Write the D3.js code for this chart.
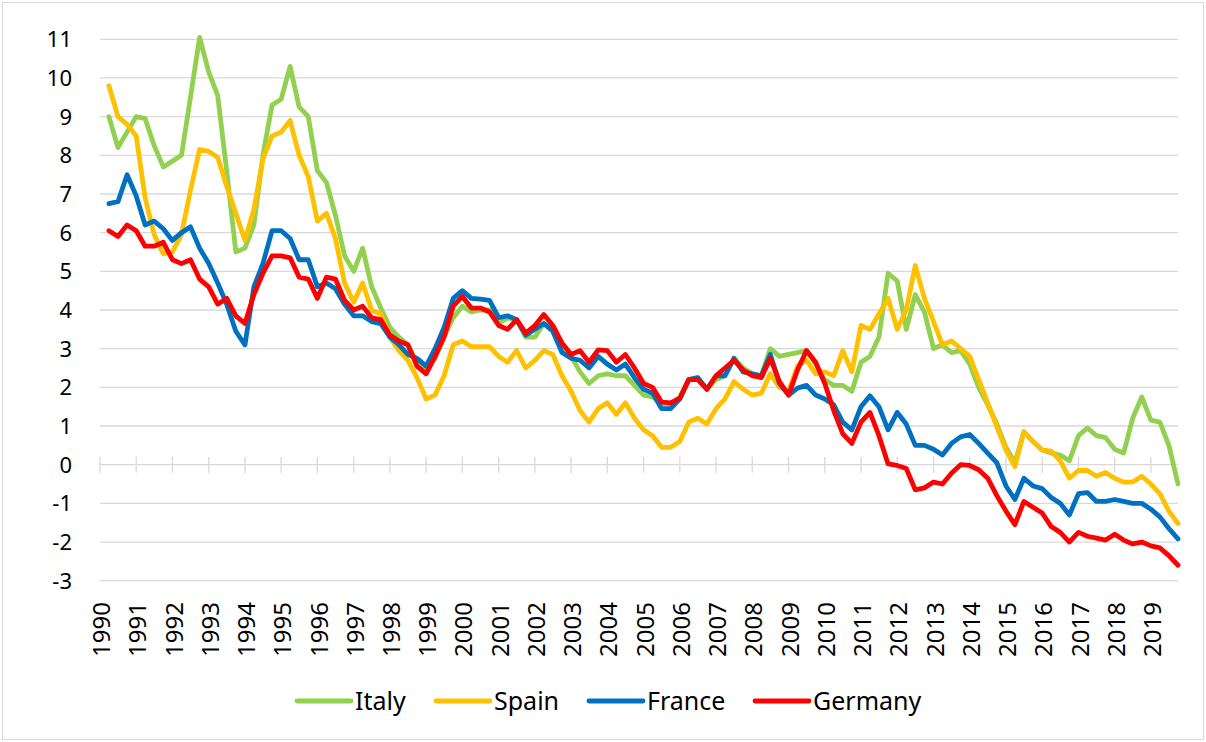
<!DOCTYPE html>
<html>
<head>
<meta charset="utf-8">
<script src="https://cdn.jsdelivr.net/npm/d3@7"></script>
<style>
  body { margin: 0; background: #fff; }
  text { font-family: "Noto Sans", "Open Sans", sans-serif; fill: #000; }
</style>
</head>
<body>
<script>
// quarterly observations, Apr 1990 .. Oct 2019
const dates = d3.timeMonth.every(3).range(new Date(1990, 3, 1), new Date(2019, 10, 1));

const italy = [
    9.0, 8.2, 8.6,
    9.0, 8.95, 8.25, 7.7,
    7.85, 8.0, 9.5, 11.05,
    10.15, 9.55, 7.6, 5.5,
    5.6, 6.2, 8.0, 9.3,
    9.45, 10.3, 9.25, 9.0,
    7.6, 7.3, 6.45, 5.4,
    5.0, 5.6, 4.6, 4.05,
    3.55, 3.3, 3.1, 2.65,
    2.5, 2.75, 3.3, 3.8,
    4.1, 3.95, 4.0, 4.0,
    3.65, 3.8, 3.75, 3.3,
    3.3, 3.65, 3.5, 2.95,
    2.8, 2.4, 2.1, 2.3,
    2.35, 2.3, 2.3, 2.05,
    1.8, 1.75, 1.6, 1.55,
    1.75, 2.2, 2.25, 1.95,
    2.2, 2.3, 2.75, 2.5,
    2.35, 2.3, 3.0, 2.8,
    2.85, 2.9, 2.95, 2.6,
    2.2, 2.05, 2.05, 1.9,
    2.65, 2.8, 3.3, 4.95,
    4.75, 3.5, 4.4, 3.95,
    3.0, 3.1, 2.9, 2.95,
    2.6, 2.0, 1.55, 1.05,
    0.45, 0.05, 0.85, 0.6,
    0.38, 0.3, 0.25, 0.1,
    0.75, 0.95, 0.75, 0.7,
    0.4, 0.3, 1.2, 1.75,
    1.15, 1.1, 0.5, -0.5
];

const spain = [
    9.8, 9.0, 8.8,
    8.5, 6.9, 5.95, 5.45,
    5.5, 5.95, 7.1, 8.15,
    8.1, 7.95, 7.2, 6.5,
    5.8, 6.6, 7.9, 8.5,
    8.6, 8.9, 8.0, 7.45,
    6.3, 6.5, 5.85, 4.7,
    4.2, 4.7, 4.0, 3.9,
    3.3, 2.95, 2.7, 2.25,
    1.7, 1.8, 2.3, 3.1,
    3.2, 3.05, 3.05, 3.05,
    2.8, 2.65, 2.95, 2.5,
    2.7, 2.95, 2.85, 2.3,
    1.9, 1.4, 1.1, 1.45,
    1.6, 1.3, 1.6, 1.2,
    0.9, 0.75, 0.45, 0.45,
    0.6, 1.1, 1.2, 1.05,
    1.45, 1.7, 2.15, 1.95,
    1.8, 1.85, 2.35, 2.0,
    1.9, 2.55, 2.7, 2.35,
    2.4, 2.3, 2.95, 2.4,
    3.6, 3.5, 3.9, 4.3,
    3.5, 4.0, 5.15, 4.3,
    3.7, 3.1, 3.2, 3.0,
    2.8, 2.2, 1.6, 0.98,
    0.38, -0.05, 0.85, 0.6,
    0.38, 0.35, 0.1, -0.35,
    -0.15, -0.15, -0.3, -0.2,
    -0.35, -0.45, -0.45, -0.3,
    -0.5, -0.75, -1.2, -1.52
];

const france = [
    6.75, 6.8, 7.5,
    6.95, 6.2, 6.3, 6.1,
    5.8, 6.0, 6.15, 5.6,
    5.2, 4.7, 4.15, 3.45,
    3.1, 4.6, 5.2, 6.05,
    6.05, 5.85, 5.3, 5.3,
    4.6, 4.7, 4.55, 4.15,
    3.85, 3.85, 3.7, 3.65,
    3.3, 3.1, 2.85, 2.75,
    2.55, 3.0, 3.55, 4.3,
    4.5, 4.3, 4.28, 4.25,
    3.8, 3.85, 3.75, 3.35,
    3.5, 3.65, 3.45, 2.9,
    2.75, 2.7, 2.5, 2.8,
    2.6, 2.45, 2.6, 2.25,
    1.95, 1.85, 1.45, 1.45,
    1.7, 2.2, 2.25, 1.95,
    2.3, 2.3, 2.75, 2.4,
    2.35, 2.3, 2.85, 2.1,
    1.8, 1.98, 2.05, 1.8,
    1.7, 1.55, 1.1, 0.9,
    1.5, 1.78, 1.5, 0.9,
    1.35, 1.05, 0.5, 0.5,
    0.4, 0.25, 0.55, 0.72,
    0.78, 0.55, 0.3, 0.05,
    -0.55, -0.9, -0.35, -0.55,
    -0.62, -0.85, -1.0, -1.3,
    -0.75, -0.72, -0.95, -0.95,
    -0.9, -0.95, -1.0, -1.0,
    -1.15, -1.35, -1.65, -1.92
];

const germany = [
    6.05, 5.9, 6.2,
    6.05, 5.65, 5.65, 5.75,
    5.3, 5.2, 5.3, 4.8,
    4.6, 4.15, 4.3, 3.85,
    3.65, 4.4, 4.95, 5.4,
    5.4, 5.35, 4.85, 4.8,
    4.3, 4.85, 4.8, 4.25,
    4.0, 4.1, 3.8, 3.75,
    3.35, 3.2, 3.1, 2.55,
    2.35, 2.8, 3.3, 4.1,
    4.35, 4.05, 4.05, 3.95,
    3.6, 3.5, 3.75, 3.4,
    3.6, 3.88, 3.6, 3.15,
    2.85, 2.95, 2.65, 2.97,
    2.95, 2.65, 2.85, 2.5,
    2.1, 2.0, 1.62, 1.6,
    1.72, 2.2, 2.2, 1.95,
    2.3, 2.5, 2.7, 2.45,
    2.3, 2.25, 2.75, 2.15,
    1.8, 2.45, 2.95, 2.65,
    2.1, 1.4, 0.8, 0.55,
    1.1, 1.35, 0.75, 0.02,
    -0.02, -0.1, -0.65, -0.6,
    -0.45, -0.5, -0.22, 0.0,
    -0.02, -0.13, -0.35, -0.8,
    -1.2, -1.55, -0.95, -1.1,
    -1.25, -1.6, -1.75, -2.0,
    -1.75, -1.85, -1.9, -1.95,
    -1.8, -1.95, -2.05, -2.0,
    -2.1, -2.15, -2.35, -2.6
];

const seriesNames = ["Italy", "Spain", "France", "Germany"];
const seriesColors = ["#92d050", "#ffc000", "#0070c0", "#ff0000"];
const seriesValues = [italy, spain, france, germany];
const yTicks = d3.range(-3, 12);
const years = d3.range(1990, 2020);

const width = 1206, height = 742;

const svg = d3.select("body").append("svg")
    .attr("width", width)
    .attr("height", height);

// chart frame
svg.append("rect")
    .attr("x", 2.5).attr("y", 2.5)
    .attr("width", width - 5).attr("height", height - 5)
    .attr("fill", "#fff")
    .attr("stroke", "#d9d9d9");

const x = d3.scaleTime()
    .domain([new Date(1990, 0, 1), new Date(2019, 9, 1)])
    .range([100, 1178]);

const y = d3.scaleLinear()
    .domain([-3, 11])
    .range([580.7, 39.3]);

// horizontal gridlines
svg.append("g")
    .selectAll("line")
    .data(yTicks.filter(d => d !== 0))
    .enter()
    .append("line")
    .attr("x1", 100).attr("x2", 1178)
    .attr("y1", d => y(d)).attr("y2", d => y(d))
    .attr("stroke", "#d9d9d9")
    .attr("stroke-width", 1.3);

// y labels
svg.append("g")
    .selectAll("text")
    .data(yTicks)
    .enter()
    .append("text")
    .attr("x", 72)
    .attr("y", d => y(d))
    .attr("dy", "0.36em")
    .attr("text-anchor", "end")
    .style("font-size", "22px")
    .text(d => d);

// zero axis with year ticks
svg.append("line")
    .attr("x1", 100).attr("x2", 1178)
    .attr("y1", y(0)).attr("y2", y(0))
    .attr("stroke", "#d9d9d9")
    .attr("stroke-width", 1.3);

svg.append("g")
    .selectAll("line")
    .data(years)
    .enter()
    .append("line")
    .attr("x1", d => x(new Date(d, 0, 1)))
    .attr("x2", d => x(new Date(d, 0, 1)))
    .attr("y1", y(0) - 8).attr("y2", y(0) + 8)
    .attr("stroke", "#d9d9d9")
    .attr("stroke-width", 1.3);

// year labels, rotated
svg.append("g")
    .selectAll("text")
    .data(years)
    .enter()
    .append("text")
    .attr("transform", d => "translate(" + (x(new Date(d, 0, 1)) + 1.5) + ",602) rotate(-90)")
    .attr("dy", "0.36em")
    .attr("text-anchor", "end")
    .style("font-size", "24px")
    .text(d => d);

// lines
const line = d3.line()
    .x((d, i) => x(dates[i]))
    .y(d => y(d));

svg.append("g")
    .selectAll("path")
    .data(seriesValues)
    .enter()
    .append("path")
    .attr("d", d => line(d))
    .attr("fill", "none")
    .attr("stroke", (d, i) => seriesColors[i])
    .attr("stroke-width", 4.8)
    .attr("stroke-linejoin", "round")
    .attr("stroke-linecap", "round");

// legend
const legendX = [297, 436, 589, 755];
const legend = svg.append("g")
    .selectAll("g")
    .data(seriesNames)
    .enter()
    .append("g")
    .attr("transform", (d, i) => "translate(" + legendX[i] + ",701)");

legend.append("line")
    .attr("x1", 0).attr("x2", 54)
    .attr("stroke", (d, i) => seriesColors[i])
    .attr("stroke-width", 4.8)
    .attr("stroke-linecap", "round");

legend.append("text")
    .attr("x", 58)
    .attr("dy", "0.36em")
    .style("font-size", "25px")
    .text(d => d);
</script>
</body>
</html>
